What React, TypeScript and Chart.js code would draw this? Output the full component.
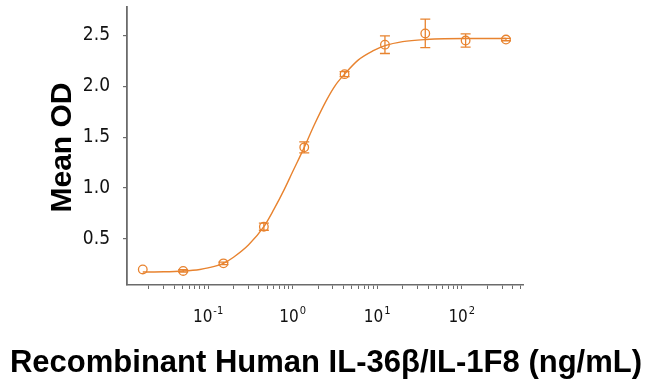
import React, { useEffect, useRef } from "react";
import { Chart, registerables } from "chart.js";

Chart.register(...registerables);

// Concentrations (ng/mL) of the measured points
const doses = [0.0169, 0.0508, 0.152, 0.457, 1.372, 4.115, 12.35, 37.04, 111.1, 333.3];
// Mean OD of the measured points
const meanOD = [0.2, 0.185, 0.26, 0.62, 1.4, 2.12, 2.41, 2.52, 2.45, 2.46];
// Error (± OD)
const errOD = [0.0, 0.012, 0.012, 0.035, 0.055, 0.025, 0.087, 0.14, 0.065, 0.012];

// Fitted curve
const curveX = [0.0169, 0.03, 0.0508, 0.08, 0.1, 0.152, 0.2, 0.3, 0.457, 0.6, 0.8, 1.0, 1.372, 1.8, 2.5, 3.2, 4.115, 6.0, 9.0, 12.35, 20.0, 37.0, 111.0, 333.3];
const curveY = [0.175, 0.177, 0.185, 0.2, 0.215, 0.26, 0.32, 0.44, 0.62, 0.79, 0.99, 1.16, 1.4, 1.62, 1.86, 2.01, 2.12, 2.26, 2.35, 2.4, 2.44, 2.46, 2.47, 2.47];

// Axis ticks
const yTicks = [0.5, 1.0, 1.5, 2.0, 2.5];
const xMajorTicks = [0.1, 1, 10, 100];
const xMajorExponents = ["-1", "0", "1", "2"];
const xMinorTicks = [
  0.02, 0.03, 0.04, 0.05, 0.06, 0.07, 0.08, 0.09,
  0.2, 0.3, 0.4, 0.5, 0.6, 0.7, 0.8, 0.9,
  2, 3, 4, 5, 6, 7, 8, 9,
  20, 30, 40, 50, 60, 70, 80, 90,
  200, 300, 400, 500,
];

const xTitle = "Recombinant Human IL-36β/IL-1F8 (ng/mL)";
const yTitle = "Mean OD";

const ORANGE = "#E8832F";
const AXIS = "#6b6b6b";
const TICK_FONT = "'Liberation Sans Narrow', 'DejaVu Sans Condensed', 'Liberation Sans', sans-serif";
const TITLE_FONT = "'Liberation Sans', Arial, sans-serif";

const extrasPlugin = {
  id: "extras",
  afterDatasetsDraw(chart: any) {
    const { ctx, scales } = chart;
    const xs = scales.x;
    const ys = scales.y;
    ctx.save();
    ctx.strokeStyle = ORANGE;
    ctx.lineWidth = 1.3;
    for (let i = 0; i < doses.length; i++) {
      if (!errOD[i]) continue;
      const x = xs.getPixelForValue(doses[i]);
      const yT = ys.getPixelForValue(meanOD[i] + errOD[i]);
      const yB = ys.getPixelForValue(meanOD[i] - errOD[i]);
      ctx.beginPath();
      ctx.moveTo(x, yT);
      ctx.lineTo(x, yB);
      ctx.moveTo(x - 5, yT);
      ctx.lineTo(x + 5, yT);
      ctx.moveTo(x - 5, yB);
      ctx.lineTo(x + 5, yB);
      ctx.stroke();
    }
    ctx.restore();
  },
  afterDraw(chart: any) {
    const { ctx, scales } = chart;
    const xs = scales.x;
    ctx.save();
    ctx.fillStyle = "#111";
    ctx.textBaseline = "alphabetic";
    ctx.textAlign = "left";
    const baseY = 322;
    for (let i = 0; i < xMajorTicks.length; i++) {
      const x = xs.getPixelForValue(xMajorTicks[i]);
      ctx.font = `17px ${TICK_FONT}`;
      const wBase = ctx.measureText("10").width;
      ctx.font = `11px ${TICK_FONT}`;
      const wExp = ctx.measureText(xMajorExponents[i]).width;
      const start = x - (wBase + wExp + 1) / 2;
      ctx.font = `17px ${TICK_FONT}`;
      ctx.fillText("10", start, baseY);
      ctx.font = `11px ${TICK_FONT}`;
      ctx.fillText(xMajorExponents[i], start + wBase + 1, baseY - 8);
    }
    // axis titles
    ctx.fillStyle = "#000";
    ctx.font = `bold 31px ${TITLE_FONT}`;
    ctx.textAlign = "center";
    ctx.fillText(xTitle, 326, 372);
    ctx.save();
    ctx.translate(71, 147.5);
    ctx.rotate(-Math.PI / 2);
    ctx.font = `bold 30px ${TITLE_FONT}`;
    ctx.fillText(yTitle, 0, 0);
    ctx.restore();
    ctx.restore();
  },
};

export default function App() {
  const ref = useRef<HTMLCanvasElement | null>(null);

  useEffect(() => {
    if (!ref.current) return;
    const pointData = doses.map((d, i) => ({ x: d, y: meanOD[i] }));
    const curveData = curveX.map((d, i) => ({ x: d, y: curveY[i] }));
    const chart = new Chart(ref.current, {
      type: "scatter",
      data: {
        datasets: [
          {
            type: "line",
            data: curveData,
            borderColor: ORANGE,
            borderWidth: 1.4,
            pointRadius: 0,
            cubicInterpolationMode: "monotone",
            fill: false,
          } as any,
          {
            type: "scatter",
            data: pointData,
            pointStyle: "circle",
            pointRadius: 4.3,
            pointBorderWidth: 1.3,
            pointBorderColor: ORANGE,
            pointBackgroundColor: "rgba(0,0,0,0)",
          } as any,
        ],
      },
      plugins: [extrasPlugin],
      options: {
        responsive: false,
        animation: false,
        events: [],
        layout: { padding: { top: 7, right: 127, left: 0, bottom: 0 } },
        plugins: { legend: { display: false }, tooltip: { enabled: false } },
        scales: {
          x: {
            type: "logarithmic",
            min: 0.011,
            max: 530,
            afterBuildTicks: (scale: any) => {
              scale.ticks = [...xMinorTicks, ...xMajorTicks]
                .sort((a, b) => a - b)
                .map((v) => ({ value: v }));
            },
            afterFit: (scale: any) => {
              scale.height = 102;
              scale.paddingLeft = 0;
              scale.paddingRight = 0;
            },
            border: { display: true, color: AXIS, width: 1.5 },
            grid: { drawOnChartArea: false, drawTicks: true, tickLength: 4, color: AXIS, lineWidth: 1 },
            ticks: { display: false },
          },
          y: {
            type: "linear",
            min: 0.047,
            max: 2.78,
            afterBuildTicks: (scale: any) => {
              scale.ticks = yTicks.map((v) => ({ value: v }));
            },
            afterFit: (scale: any) => {
              scale.width = 127;
              scale.paddingTop = 0;
              scale.paddingBottom = 0;
            },
            border: { display: true, color: AXIS, width: 1.8 },
            grid: { drawOnChartArea: false, drawTicks: true, tickLength: 4, color: AXIS, lineWidth: 1.2 },
            ticks: {
              color: "#111",
              padding: 13,
              font: { family: TICK_FONT, size: 19 },
              callback: (v: any) => Number(v).toFixed(1),
            },
          },
        },
      } as any,
    });
    return () => chart.destroy();
  }, []);

  return (
    <div style={{ position: "absolute", left: 0, top: 0, width: 650, height: 387, background: "#fff" }}>
      <canvas ref={ref} width={650} height={387} style={{ display: "block" }} />
    </div>
  );
}
